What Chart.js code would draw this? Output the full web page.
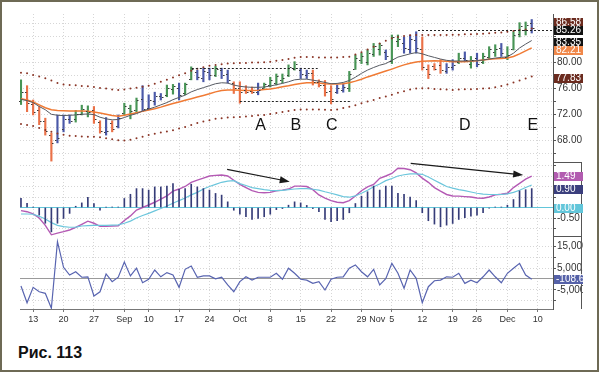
<!DOCTYPE html>
<html>
<head>
<meta charset="utf-8">
<script src="https://cdn.jsdelivr.net/npm/chart.js@4.4.0/dist/chart.umd.min.js"></script>
<style>
  body { margin: 0; background: #fff; }
  #frame { position: absolute; left: 0; top: 0; width: 599px; height: 372px; box-sizing: border-box; border: 2px solid #6e6a55; }
  #c { position: absolute; left: 0; top: 0; }
  #cap { position: absolute; left: 18px; top: 344px; font: bold 16px "Liberation Sans", Arial, sans-serif; color: #111; }
</style>
</head>
<body>
<div id="frame"></div>
<canvas id="c" width="583" height="330"></canvas>
<div id="cap">Рис. 113</div>
<script>
// дневные бары (индекс торгового дня 0..84, 9 авг - 7 дек)
const highs = [77.3,76.4,74.2,73.2,71.4,69.1,71.9,71.9,71.9,72.6,
  73.4,73.3,73.2,71.0,71.5,71.0,71.9,73.7,73.4,74.5,
  76.4,75.0,75.4,75.2,76.5,76.6,76.8,76.8,79.3,78.8,
  79.1,79.1,79.4,79.1,78.8,77.0,77.0,76.4,76.2,76.8,
  76.8,77.7,78.2,78.2,79.6,80.1,79.1,78.8,78.8,77.3,
  77.2,76.4,76.5,76.7,78.6,81.1,81.4,81.9,82.9,82.9,
  81.9,84.2,84.2,83.9,84.2,84.7,83.9,79.6,79.8,80.4,
  79.8,80.4,81.4,81.6,80.9,81.4,81.4,82.4,82.7,82.9,
  82.4,84.7,86.1,86.2,86.58];
const lows = [73.5,72.4,71.9,70.4,68.8,64.8,67.6,69.3,70.6,70.8,
  71.9,71.6,70.6,69.1,68.8,69.3,69.9,71.9,71.3,72.2,
  72.4,72.7,73.4,74.2,74.7,75.1,74.2,75.0,77.3,77.3,
  77.0,77.3,77.8,77.5,76.8,75.2,73.7,75.2,75.2,75.0,
  76.0,76.2,76.5,76.8,77.8,78.8,77.5,77.5,76.5,76.2,
  74.8,73.6,75.2,75.4,75.5,78.9,79.8,79.6,80.9,81.1,
  80.4,79.8,82.4,81.4,81.4,81.4,78.8,77.5,78.8,78.3,
  78.3,78.8,79.8,80.1,79.1,79.3,79.8,80.6,80.9,80.9,
  80.4,81.9,83.9,84.2,84.5];
const opens = [74.0,75.5,73.6,72.6,71.0,68.8,68.0,69.8,71.3,71.2,
  72.0,72.5,72.6,70.8,69.2,70.6,70.2,72.2,73.0,72.6,
  74.3,73.0,74.0,74.8,74.9,75.9,76.0,75.3,77.5,78.5,
  77.6,78.5,78.0,78.8,78.2,76.8,76.0,75.8,75.6,75.4,
  76.1,76.5,76.8,77.2,78.0,79.0,78.8,78.0,78.3,77.0,
  76.5,75.6,75.4,75.8,76.0,79.0,80.4,80.0,81.2,82.0,
  81.6,80.2,83.2,83.0,82.0,83.4,82.0,79.0,79.4,79.6,
  78.6,79.2,80.0,80.6,79.8,80.6,80.0,80.8,81.6,82.2,
  80.8,82.0,84.4,85.0,86.0];
const closes = [75.4,73.8,72.4,71.0,69.5,67.6,68.3,71.2,71.0,72.0,
  72.8,72.4,71.2,69.5,69.5,69.8,71.4,73.3,72.5,74.2,
  72.8,74.2,74.8,74.6,76.0,76.3,75.0,76.6,78.9,77.7,
  78.6,78.0,79.0,78.0,77.2,76.0,75.4,75.4,75.4,75.8,
  76.6,77.2,77.9,77.6,79.3,79.7,78.2,78.4,76.9,76.5,
  75.4,74.4,76.0,76.2,78.2,80.6,81.0,81.4,82.5,82.6,
  81.0,83.9,83.6,82.2,83.6,82.2,79.3,78.2,79.0,78.8,
  79.2,79.6,80.6,80.4,80.4,79.8,81.0,82.0,82.0,81.4,
  81.1,84.2,85.6,85.8,85.26];
// цвет системы Импульс: g - зелёный, r - красный, b - синий
const impulse = 'grrrrrbbbg' + 'ggrrbrbggg' + 'bbbbggbggb' + 'bbgbbrrrrb' + 'ggggggbbrr' +
  'rrbbgggggg' + 'bggbbbrrrr' + 'bbgbgbgggb' + 'ggggb';

const emaFast = [74.3,74.1,73.8,73.2,72.7,72.0,71.85,71.8,71.85,71.9,
  72.0,72.05,71.95,71.55,71.3,71.15,71.2,71.5,71.85,72.1,
  72.5,72.8,73.1,73.45,73.8,74.25,74.6,74.95,75.45,75.8,
  76.1,76.4,76.7,76.85,76.8,76.5,76.3,76.2,76.15,76.15,
  76.2,76.35,76.55,76.75,77.0,77.3,77.4,77.4,77.25,77.1,
  76.9,76.7,76.75,76.9,77.2,77.7,78.3,78.8,79.2,79.55,
  79.8,80.3,80.8,81.05,81.3,81.5,81.3,81.0,80.75,80.5,
  80.3,80.2,80.2,80.2,80.2,80.25,80.35,80.5,80.65,80.75,
  80.85,81.4,82.2,82.8,83.35];
const emaSlow = [74.4,74.2,73.9,73.45,73.0,72.7,72.6,72.55,72.5,72.5,
  72.5,72.45,72.35,72.2,72.0,71.8,71.7,71.85,72.05,72.25,
  72.45,72.65,72.85,73.1,73.4,73.65,73.9,74.15,74.4,74.65,
  74.9,75.15,75.45,75.65,75.75,75.75,75.7,75.65,75.65,75.7,
  75.8,75.9,76.05,76.25,76.4,76.6,76.75,76.85,76.85,76.8,
  76.7,76.65,76.65,76.7,76.85,77.1,77.4,77.75,78.05,78.35,
  78.65,78.95,79.3,79.6,79.85,80.05,80.15,80.2,80.25,80.2,
  80.15,80.1,80.1,80.1,80.15,80.25,80.35,80.45,80.55,80.6,
  80.65,80.9,81.3,81.75,82.21];
const upperCh = [78.4,78.3,78.05,77.8,77.55,77.2,76.8,76.6,76.5,76.45,
  76.35,76.3,76.2,76.05,75.95,75.8,75.75,75.8,75.95,76.1,
  76.25,76.4,76.7,77.0,77.3,77.65,78.0,78.3,78.7,79.0,
  79.25,79.45,79.6,79.7,79.8,79.85,79.9,79.9,79.95,79.95,
  80.0,80.1,80.25,80.35,80.5,80.7,80.8,80.8,80.8,80.75,
  80.75,80.75,80.75,80.8,80.85,81.2,81.55,81.95,82.4,82.9,
  83.3,83.7,83.9,84.05,84.15,84.2,84.2,84.2,84.2,84.2,
  84.2,84.25,84.25,84.3,84.3,84.35,84.4,84.45,84.55,84.6,
  84.7,84.8,84.95,85.05,85.2];
const lowerCh = [70.5,70.35,70.2,69.9,69.6,69.3,69.05,68.85,68.7,68.65,
  68.6,68.55,68.55,68.45,68.3,68.15,68.0,67.95,68.1,68.3,
  68.55,68.8,69.0,69.2,69.35,69.55,69.8,70.05,70.35,70.65,
  70.9,71.1,71.3,71.4,71.5,71.55,71.6,71.65,71.75,71.85,
  71.9,72.05,72.2,72.35,72.5,72.65,72.75,72.75,72.75,72.75,
  72.7,72.65,72.75,72.95,73.15,73.4,73.7,73.95,74.2,74.5,
  74.75,75.0,75.3,75.55,75.8,75.95,76.0,76.0,75.9,75.85,
  75.8,75.75,75.8,75.85,75.85,75.9,75.95,76.0,76.15,76.35,
  76.6,76.9,77.2,77.5,77.83];

const macdLine = [-0.15,-0.2,-0.3,-0.5,-0.85,-1.3,-1.22,-1.15,-1.07,-0.95,
  -0.8,-0.65,-0.75,-0.9,-0.9,-0.88,-0.87,-0.62,-0.4,-0.12,
  0.0,0.12,0.25,0.4,0.55,0.78,0.88,1.0,1.2,1.3,
  1.4,1.5,1.53,1.55,1.5,1.3,1.1,0.95,0.8,0.72,
  0.7,0.72,0.8,0.83,0.88,1.02,1.02,1.0,0.85,0.6,
  0.45,0.33,0.25,0.23,0.33,0.55,0.8,0.98,1.1,1.39,
  1.5,1.62,1.87,1.86,1.8,1.65,1.4,1.2,0.95,0.78,
  0.62,0.55,0.54,0.52,0.5,0.45,0.44,0.5,0.6,0.63,
  0.68,0.95,1.15,1.35,1.49];
const signalLine = [-0.31,-0.31,-0.32,-0.42,-0.55,-0.72,-0.85,-0.91,-0.94,-0.93,
  -0.88,-0.86,-0.85,-0.85,-0.85,-0.84,-0.83,-0.75,-0.65,-0.5,
  -0.38,-0.28,-0.16,-0.05,0.07,0.2,0.33,0.45,0.6,0.72,
  0.88,1.0,1.1,1.2,1.26,1.28,1.14,1.05,0.95,0.9,
  0.85,0.82,0.8,0.82,0.85,0.88,0.9,0.9,0.87,0.83,
  0.75,0.68,0.6,0.52,0.49,0.55,0.68,0.82,0.99,1.12,
  1.28,1.38,1.5,1.56,1.6,1.6,1.58,1.45,1.3,1.15,
  1.0,0.92,0.85,0.8,0.74,0.68,0.64,0.62,0.62,0.62,
  0.65,0.72,0.82,0.95,1.07];
const macdHist = [0.44,0.2,0.02,-0.36,-0.75,-1.16,-0.75,-0.52,-0.28,0.06,
  0.22,0.48,0.19,-0.13,0.02,0.02,0.02,0.43,0.63,0.9,
  0.9,0.83,0.98,0.98,1.02,1.14,0.86,0.9,1.11,0.98,
  0.9,0.83,0.67,0.59,0.27,-0.13,-0.32,-0.44,-0.57,-0.52,
  -0.44,-0.32,-0.1,-0.05,0.11,0.27,0.22,0.1,-0.05,-0.2,
  -0.57,-0.68,-0.63,-0.57,-0.25,0.19,0.54,0.75,1.02,0.83,
  1.02,1.02,0.67,0.63,0.5,0.33,-0.25,-0.63,-0.79,-0.92,
  -0.84,-0.76,-0.57,-0.48,-0.41,-0.37,-0.25,-0.03,0.02,0.02,
  0.11,0.38,0.79,0.85,0.9];
// индекс силы, млн
const forceIdx = [-3.2,-10.8,-3.8,-5.8,-6.5,-13.3,17.0,5.3,1.8,3.3,
  0.8,1.0,-7.7,-5.8,2.3,-1.2,0.8,7.7,1.4,4.9,
  -1.7,-0.1,4.1,1.0,2.9,1.8,-3.8,4.4,5.9,0.8,
  1.4,1.4,0.1,0.8,-2.7,-5.8,-1.2,1.0,-0.5,0.8,
  0.8,0.8,2.6,-0.1,4.9,2.6,-0.1,-0.5,-2.0,-1.2,
  -5.0,-0.1,0.8,1.0,4.9,6.4,3.3,1.0,4.4,-2.7,
  0.1,7.1,2.6,-4.2,4.1,0.3,-10.8,-3.5,-0.8,-0.5,
  1.0,0.8,2.6,-2.0,-0.5,-1.7,1.0,4.1,1.0,-1.7,
  2.6,4.9,7.1,1.8,-0.11];

// подписи оси дат
const tickPos = [2, 7, 12, 17, 21, 26, 31, 36, 41, 46, 51, 56, 58.6, 61, 66, 71, 75, 80, 85];
const tickText = ['13', '20', '27', 'Sep', '10', '17', '24', 'Oct', '8', '15', '22', '29', 'Nov', '5', '12', '19', '26', 'Dec', '10'];
const novPos = 58.6;

const priceTicks = [66, 68, 70, 72, 74, 76, 78, 80, 82, 84, 86];
const macdTicks = [-1, -0.5, 0, 0.5, 1, 1.5, 2];
const forceTicks = [-10, -5, 0, 5, 10, 15];

// разметка на графике
const letters = [['A', 39.4, 70.2], ['B', 45.2, 70.2], ['C', 51.1, 70.2], ['D', 73, 70.2], ['E', 84.2, 70.2]];
const dashLines = [[79.08, 28.1, 48.8], [74.05, 36, 54.1], [84.95, 65.3, 87.5]];
const arrows = [[33.9, 1.82, 44.2, 1.23], [64.1, 2.10, 82.6, 1.55]];
const valueBoxes = [
  ['yP', 86.58, '86.58', '#6b2b1f', 2],
  ['yP', 85.26, '85.26', '#111111', 2],
  ['yP', 83.35, '83.35', '#111111', 1],
  ['yP', 82.21, '82.21', '#f0884a', 2],
  ['yP', 77.83, '77.83', '#6b2b1f', 2],
  ['yM', 1.49, '1.49', '#b25cb0', 0],
  ['yM', 0.90, '0.90', '#3b3f7d', 0],
  ['yM', 0.00, '0.00', '#62c6da', 0],
  ['yF', -0.11, '-108.63', '#5561a8', 0]
];

const FONT = "'Liberation Sans', Arial, sans-serif";
Chart.defaults.font.family = FONT;
Chart.defaults.font.size = 10;
Chart.defaults.color = '#333';

const barColors = { g: '#479455', r: '#ea7148', b: '#4a58a8' };
const idx = highs.map((h, i) => i);
const pts = arr => arr.map((v, i) => ({ x: i, y: v }));

const dotted = c => (c.tick && c.tick.value === 0 ? [] : [1, 2]);

const annotations = {
  id: 'annotations',
  afterDatasetsDraw(chart) {
    const { ctx, scales } = chart;
    const x = scales.x, yP = scales.yP, yM = scales.yM;
    ctx.save();
    // засечки открытия/закрытия
    ctx.fillStyle = '#3a3a3a';
    idx.forEach(i => {
      const px = Math.round(x.getPixelForValue(i));
      ctx.fillRect(px - 2, Math.round(yP.getPixelForValue(opens[i])), 1.5, 1);
      ctx.fillRect(px + 1, Math.round(yP.getPixelForValue(closes[i])), 1.5, 1);
    });
    // пунктирные уровни
    ctx.strokeStyle = '#222';
    ctx.lineWidth = 1;
    ctx.setLineDash([2, 2]);
    dashLines.forEach(([v, a, b]) => {
      const py = Math.round(yP.getPixelForValue(v)) + 0.5;
      ctx.beginPath();
      ctx.moveTo(x.getPixelForValue(a), py);
      ctx.lineTo(Math.min(x.getPixelForValue(b), chart.chartArea.right), py);
      ctx.stroke();
    });
    ctx.setLineDash([]);
    // буквы
    ctx.fillStyle = '#111';
    ctx.font = '16px ' + FONT;
    ctx.textAlign = 'center';
    ctx.textBaseline = 'middle';
    letters.forEach(([t, i, v]) => ctx.fillText(t, x.getPixelForValue(i), yP.getPixelForValue(v)));
    // стрелки дивергенции
    ctx.strokeStyle = '#1a1a1a';
    ctx.fillStyle = '#1a1a1a';
    ctx.lineWidth = 1.2;
    arrows.forEach(([i0, v0, i1, v1]) => {
      const x0 = x.getPixelForValue(i0), y0 = yM.getPixelForValue(v0);
      const x1 = x.getPixelForValue(i1), y1 = yM.getPixelForValue(v1);
      const ang = Math.atan2(y1 - y0, x1 - x0);
      ctx.beginPath();
      ctx.moveTo(x0, y0);
      ctx.lineTo(x1 - 6 * Math.cos(ang), y1 - 6 * Math.sin(ang));
      ctx.stroke();
      ctx.beginPath();
      ctx.moveTo(x1, y1);
      ctx.lineTo(x1 - 10 * Math.cos(ang) + 3.5 * Math.sin(ang), y1 - 10 * Math.sin(ang) - 3.5 * Math.cos(ang));
      ctx.lineTo(x1 - 10 * Math.cos(ang) - 3.5 * Math.sin(ang), y1 - 10 * Math.sin(ang) + 3.5 * Math.cos(ang));
      ctx.closePath();
      ctx.fill();
    });
    ctx.restore();
  },
  afterDraw(chart) {
    const { ctx, scales, chartArea } = chart;
    const left = chartArea.right;
    ctx.save();
    // разделители панелей справа
    ctx.strokeStyle = '#555';
    ctx.lineWidth = 1;
    [scales.yM.top, scales.yF.top].forEach(t => {
      ctx.beginPath();
      ctx.moveTo(left, Math.round(t) + 0.5);
      ctx.lineTo(582, Math.round(t) + 0.5);
      ctx.stroke();
    });
    ctx.beginPath();
    ctx.moveTo(581.5, scales.yM.top);
    ctx.lineTo(581.5, chartArea.bottom);
    ctx.stroke();
    // значения последних баров
    ctx.font = '10px ' + FONT;
    ctx.textAlign = 'left';
    ctx.textBaseline = 'middle';
    valueBoxes.forEach(([ax, v, t, bg, dy]) => {
      const py = Math.round(scales[ax].getPixelForValue(v)) + dy;
      ctx.fillStyle = bg;
      ctx.fillRect(left + 1, py - 4, 29, 9);
      ctx.fillStyle = '#fff';
      ctx.fillText(t, left + 3, py + 0.5);
    });
    ctx.restore();
  }
};

const yAxis = (weight, min, max, ticks, label, zeroColor) => ({
  position: 'right',
  stack: 'panels',
  stackWeight: weight,
  min: min,
  max: max,
  afterBuildTicks: s => { s.ticks = ticks.map(v => ({ value: v })); },
  afterFit: s => { s.width = 30; },
  ticks: { autoSkip: false, padding: 1, color: '#333', font: { size: 10 }, callback: label },
  grid: {
    color: c => (c.tick && c.tick.value === 0 && zeroColor ? zeroColor : '#d6d6d6'),
    tickLength: 3,
    tickColor: '#555'
  },
  border: { color: '#555', dash: zeroColor ? dotted : [1, 2] }
});

new Chart(document.getElementById('c'), {
  type: 'line',
  data: {
    datasets: [
      { type: 'line', data: pts(upperCh), yAxisID: 'yP', showLine: false, pointRadius: 1, pointBorderWidth: 0, pointBackgroundColor: '#8a3526' },
      { type: 'line', data: pts(lowerCh), yAxisID: 'yP', showLine: false, pointRadius: 1, pointBorderWidth: 0, pointBackgroundColor: '#8a3526' },
      { type: 'line', data: pts(emaFast), yAxisID: 'yP', borderColor: '#565a62', borderWidth: 1, pointRadius: 0 },
      { type: 'line', data: pts(emaSlow), yAxisID: 'yP', borderColor: '#f07a34', borderWidth: 1.5, pointRadius: 0 },
      {
        type: 'bar', yAxisID: 'yP', grouped: false, barThickness: 1.5,
        data: idx.map(i => ({ x: i, y: [lows[i], highs[i]] })),
        backgroundColor: idx.map(i => barColors[impulse[i]])
      },
      { type: 'bar', yAxisID: 'yM', grouped: false, barThickness: 1, data: pts(macdHist), backgroundColor: '#363c78' },
      { type: 'line', data: pts(signalLine), yAxisID: 'yM', borderColor: '#6cc6dc', borderWidth: 1.2, pointRadius: 0 },
      { type: 'line', data: pts(macdLine), yAxisID: 'yM', borderColor: '#b45ab4', borderWidth: 1.4, pointRadius: 0 },
      { type: 'line', data: pts(forceIdx), yAxisID: 'yF', borderColor: '#5864b0', borderWidth: 1.2, pointRadius: 0 }
    ]
  },
  options: {
    responsive: false,
    animation: false,
    events: [],
    layout: { padding: { left: 20, top: 14, right: 0, bottom: 0 } },
    plugins: { legend: { display: false }, tooltip: { enabled: false } },
    scales: {
      x: {
        type: 'linear',
        min: -0.16,
        max: 87.5,
        offset: false,
        afterBuildTicks: s => { s.ticks = tickPos.map(v => ({ value: v })); },
        afterFit: s => { s.height = 21; },
        ticks: { autoSkip: false, maxRotation: 0, padding: 2, color: '#333', font: { size: 9 }, callback: (v, i) => tickText[i] },
        grid: {
          offset: false,
          color: c => (c.tick && c.tick.value === novPos ? 'rgba(0,0,0,0)' : '#d6d6d6'),
          tickLength: 3,
          tickColor: c => (c.tick && c.tick.value === novPos ? 'rgba(0,0,0,0)' : '#777')
        },
        border: { color: '#777', dash: [1, 2] }
      },
      yP: yAxis(148, 64.66, 87.43, priceTicks, v => (v % 4 === 0 && v <= 80 ? v.toFixed(2) : ''), null),
      yM: yAxis(74, -1.357, 2.167, macdTicks, v => (v === -0.5 ? '-0.50' : ''), '#62c6da'),
      yF: yAxis(73, -13.64, 19.55, forceTicks, v => (v === 15 || v === 5 || v === -5 ? (v * 1e6).toLocaleString('en-US') : ''), '#9a9a9a')
    }
  },
  plugins: [annotations]
});
</script>
</body>
</html>
